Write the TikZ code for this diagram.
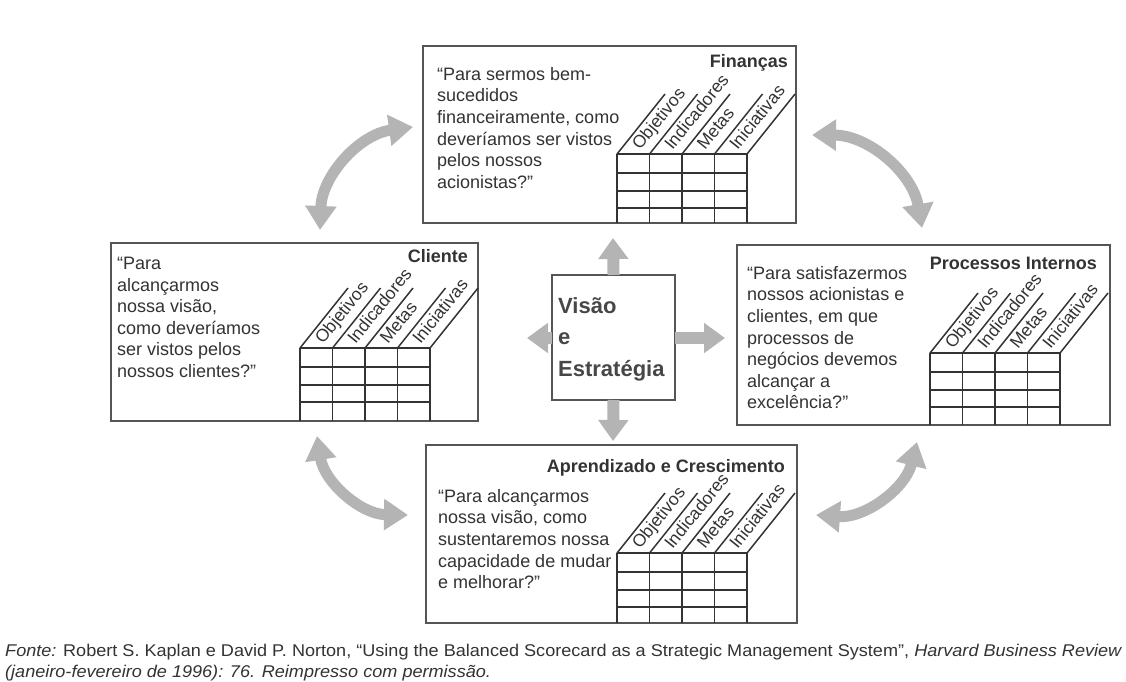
\documentclass[tikz,border=0pt]{standalone}
\usepackage{fontspec}
\setmainfont{Liberation Sans}
\usetikzlibrary{arrows.meta}
\definecolor{ink}{HTML}{333333}
\definecolor{frame}{HTML}{555555}
\definecolor{arr}{HTML}{B4B4B4}
\tikzset{
  box/.style={draw=frame, line width=1.3pt, rectangle, inner sep=0pt, outer sep=0pt, anchor=north west},
  body/.style={anchor=north west, align=left, inner sep=0pt, text=ink, font=\fontsize{18}{21.6}\selectfont},
  ttl/.style={anchor=base east, inner sep=0pt, text=ink, font=\bfseries\fontsize{18}{21.6}\selectfont},
  hdr/.style={anchor=base west, inner sep=0pt, text=ink, rotate=51, font=\fontsize{17.5}{18}\selectfont},
  gridline/.style={draw=ink, line width=1.5pt},
  blockarrow/.style={draw=arr, line width=12pt, -{Triangle[length=21pt,width=29pt]}},
  curvearrow/.style={draw=arr, line width=11pt, {Triangle[length=24pt,width=30pt]}-{Triangle[length=24pt,width=30pt]}, bend left=40},
}
\newcommand\bsgrid[3]{%
  \foreach \k in {0,...,4} {
    \draw[gridline] ({#1+\k*32.5},{#2}) -- ({#1+\k*32.5},{#3});
    \draw[gridline] ({#1+\k*32.5},{#2}) -- ++(48,-60);
  }
  \foreach \r in {0,19,37,54} \draw[gridline] ({#1},{#2+\r}) -- ({#1+130},{#2+\r});
  \node[hdr] at ({#1+0*32.5+23},{#2-3}) {Objetivos};
  \node[hdr] at ({#1+1*32.5+23},{#2-3}) {Indicadores};
  \node[hdr] at ({#1+2*32.5+23},{#2-3}) {Metas};
  \node[hdr] at ({#1+3*32.5+23},{#2-3}) {Iniciativas};
}
\begin{document}
\begin{tikzpicture}[x=1pt,y=-1pt]
\fill[white] (0,0) rectangle (1126,681);
\useasboundingbox (0,0) rectangle (1126,681);

% boxes
\node[box, minimum width=373pt, minimum height=177pt] (fin) at (423,46) {};
\node[box, minimum width=367pt, minimum height=178pt] (cli) at (111,243) {};
\node[box, minimum width=373pt, minimum height=180pt] (pro) at (737,245) {};
\node[box, minimum width=371pt, minimum height=178pt] (apr) at (426,445) {};
\node[box, minimum width=123pt, minimum height=125pt] (vs) at (552,275) {};

% grids
\bsgrid{617}{154}{223}
\bsgrid{300}{348}{421}
\bsgrid{930}{353}{425}
\bsgrid{617}{553}{623}

% titles
\node[ttl] (tfin) at (788,67) {Finanças};
\node[ttl] (tcli) at (468,262) {Cliente};
\node[ttl] (tpro) at (1097,269) {Processos Internos};
\node[ttl] (tapr) at (785,472) {Aprendizado e Crescimento};

% questions
\node[body] (qfin) at (437,67) {“Para sermos bem-\\sucedidos\\financeiramente, como\\deveríamos ser vistos\\pelos nossos\\acionistas?”};
\node[body] (qcli) at (117,257) {“Para\\alcançarmos\\nossa visão,\\como deveríamos\\ser vistos pelos\\nossos clientes?”};
\node[body] (qpro) at (747,266) {“Para satisfazermos\\nossos acionistas e\\clientes, em que\\processos de\\negócios devemos\\alcançar a\\excelência?”};
\node[body] (qapr) at (438,489) {“Para alcançarmos\\nossa visão, como\\sustentaremos nossa\\capacidade de mudar\\e melhorar?”};

% center text
\node[anchor=north west, align=left, inner sep=0pt, text=ink!90, font=\bfseries\fontsize{22}{31.5}\selectfont] (vst) at (558,297) {Visão\\e\\Estratégia};

% straight arrows
\coordinate (tipU) at (613,238);
\coordinate (tipD) at (613,441);
\coordinate (tipL) at (527,338);
\coordinate (tipR) at (725,338);
\draw[blockarrow] (vs.north) -- (tipU);
\draw[blockarrow] (vs.south) -- (tipD);
\draw[blockarrow] (vs.west |- tipL) -- (tipL);
\draw[blockarrow] (vs.east |- tipR) -- (tipR);

% curved arrows
\coordinate (a1) at (320,230);
\coordinate (a2) at (413,127);
\coordinate (b1) at (812,135);
\coordinate (b2) at (922,228);
\coordinate (c1) at (917,442);
\coordinate (c2) at (816,515);
\coordinate (d1) at (408,515);
\coordinate (d2) at (317,436);
\draw[curvearrow] (a1) to (a2);
\draw[curvearrow] (b1) to (b2);
\draw[curvearrow] (c1) to (c2);
\draw[curvearrow] (d1) to (d2);

% caption
\node[anchor=base west, inner sep=0pt, text=ink, font=\fontsize{17}{21}\selectfont] (cap) at (5,656) {\resizebox{1117pt}{\height}{\begin{tabular}[t]{@{}l@{}}\textit{Fonte:} Robert S. Kaplan e David P. Norton, “Using the Balanced Scorecard as a Strategic Management System”, \textit{Harvard Business Review}\\ \textit{(janeiro-fevereiro de 1996): 76. Reimpresso com permissão.}\end{tabular}}};
\end{tikzpicture}
\end{document}
